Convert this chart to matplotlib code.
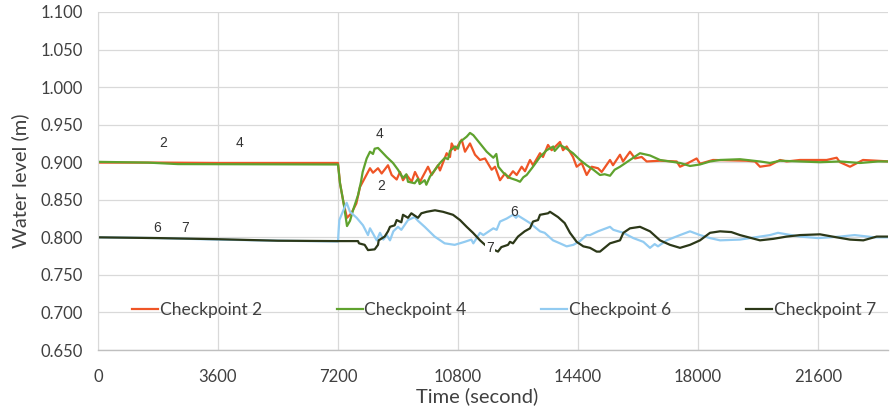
import matplotlib
matplotlib.use("Agg")
import matplotlib.pyplot as plt

# ---- data (time in s, water level in m) ----
t_cp2 = [0, 1800, 3600, 7200, 7260, 7370, 7470, 7600, 7750, 7860, 8160, 8250, 8400, 8510,
         8700, 8810, 8960, 9060, 9150, 9260, 9410, 9510, 9660, 9900, 10010, 10200, 10260,
         10460, 10560, 10610, 10710, 10910, 11010, 11160, 11310, 11460, 11610, 11810, 11910,
         12060, 12210, 12300, 12450, 12560, 12710, 12810, 12960, 13050, 13260, 13350, 13500,
         13610, 13860, 13950, 14060, 14250, 14360, 14510, 14660, 14810, 15000, 15110, 15360,
         15450, 15660, 15750, 15960, 16110, 16310, 16460, 16860, 17360, 17460, 17660, 17960,
         18060, 18450, 19460, 19710, 19860, 20160, 20460, 20660, 21060, 21860, 22160, 22260,
         22560, 22950, 23360, 23760]
y_cp2 = [0.8995, 0.8995, 0.899, 0.899, 0.872, 0.845, 0.826, 0.832, 0.845, 0.867, 0.892, 0.886,
         0.892, 0.885, 0.896, 0.883, 0.877, 0.887, 0.876, 0.883, 0.874, 0.887, 0.874, 0.894,
         0.883, 0.896, 0.889, 0.912, 0.907, 0.925, 0.916, 0.930, 0.914, 0.925, 0.910, 0.903,
         0.905, 0.890, 0.894, 0.876, 0.885, 0.879, 0.888, 0.883, 0.894, 0.888, 0.903, 0.896,
         0.912, 0.907, 0.923, 0.916, 0.927, 0.916, 0.921, 0.907, 0.894, 0.899, 0.883, 0.894,
         0.892, 0.887, 0.903, 0.896, 0.910, 0.901, 0.914, 0.905, 0.907, 0.901, 0.902, 0.901,
         0.894, 0.898, 0.905, 0.898, 0.903, 0.902, 0.901, 0.894, 0.896, 0.903, 0.901, 0.903,
         0.903, 0.906, 0.900, 0.894, 0.903, 0.902, 0.901]

t_cp4 = [0, 1500, 2400, 7200, 7260, 7370, 7470, 7560, 7650, 7800, 7890, 7940, 8060, 8160,
         8250, 8300, 8400, 8510, 8660, 8850, 9000, 9150, 9250, 9300, 9500, 9600, 9650, 9800,
         9850, 9960, 10110, 10260, 10410, 10500, 10560, 10710, 10800, 10860, 11060, 11160,
         11260, 11460, 11660, 11860, 11950, 12010, 12160, 12360, 12560, 12660, 12760, 12860,
         13050, 13260, 13460, 13660, 13700, 13860, 14060, 14250, 14460, 14660, 14860, 15060,
         15200, 15360, 15500, 15660, 15960, 16260, 16560, 16860, 17160, 17460, 17760, 18060,
         18360, 18660, 19260, 19860, 20160, 20460, 21060, 21660, 22260, 22860, 23400, 23760]
y_cp4 = [0.9005, 0.8995, 0.8975, 0.897, 0.872, 0.845, 0.815, 0.822, 0.836, 0.856, 0.874, 0.887,
         0.905, 0.914, 0.911, 0.918, 0.919, 0.914, 0.907, 0.899, 0.890, 0.879, 0.884, 0.874,
         0.872, 0.878, 0.871, 0.876, 0.870, 0.881, 0.890, 0.899, 0.906, 0.904, 0.915, 0.921,
         0.918, 0.927, 0.934, 0.939, 0.936, 0.925, 0.914, 0.906, 0.911, 0.894, 0.886, 0.879,
         0.876, 0.874, 0.880, 0.883, 0.894, 0.907, 0.916, 0.921, 0.915, 0.923, 0.918, 0.912,
         0.903, 0.896, 0.890, 0.883, 0.884, 0.882, 0.890, 0.894, 0.903, 0.912, 0.909, 0.903,
         0.901, 0.899, 0.895, 0.897, 0.901, 0.903, 0.904, 0.901, 0.899, 0.902, 0.901, 0.900,
         0.901, 0.899, 0.901, 0.901]

t_cp6 = [0, 1800, 3600, 5400, 7200, 7215, 7240, 7380, 7460, 7560, 7760, 7950, 8100, 8160,
         8250, 8360, 8460, 8560, 8660, 8760, 8860, 9000, 9100, 9300, 9500, 9600, 9800, 10100,
         10400, 10700, 11000, 11200, 11260, 11460, 11560, 11860, 11960, 12060, 12260, 12450,
         12540, 12600, 12960, 13260, 13400, 13650, 13860, 14060, 14260, 14460, 14660, 14760,
         15000, 15360, 15460, 15760, 16060, 16360, 16560, 16700, 16800, 17060, 17460, 17760,
         18060, 18360, 18660, 19260, 19860, 20160, 20400, 21060, 21600, 22260, 22700, 23300,
         23760]
y_cp6 = [0.800, 0.799, 0.797, 0.7955, 0.7945, 0.806, 0.823, 0.838, 0.846, 0.834, 0.826, 0.816,
         0.803, 0.812, 0.805, 0.796, 0.806, 0.797, 0.803, 0.796, 0.808, 0.814, 0.810, 0.823,
         0.827, 0.822, 0.814, 0.801, 0.792, 0.790, 0.794, 0.797, 0.792, 0.806, 0.803, 0.812,
         0.810, 0.821, 0.825, 0.830, 0.826, 0.829, 0.819, 0.808, 0.806, 0.796, 0.792, 0.788,
         0.790, 0.795, 0.803, 0.803, 0.808, 0.814, 0.810, 0.806, 0.799, 0.794, 0.786, 0.791,
         0.788, 0.796, 0.803, 0.808, 0.803, 0.799, 0.796, 0.797, 0.801, 0.803, 0.806, 0.801,
         0.799, 0.801, 0.803, 0.800, 0.800]

t_cp7 = [0, 1800, 3600, 5400, 7200, 7800, 7830, 8000, 8100, 8300, 8400, 8420, 8600, 8700,
         8760, 8900, 8960, 9100, 9150, 9300, 9400, 9600, 9700, 9860, 10110, 10350, 10650,
         10860, 11060, 11250, 11460, 11610, 11700, 12000, 12100, 12300, 12360, 12450, 12600,
         12800, 12960, 13050, 13200, 13260, 13500, 13560, 13800, 14000, 14160, 14360, 14560,
         14760, 14960, 15060, 15360, 15660, 15760, 15960, 16260, 16560, 16860, 17160, 17460,
         17760, 18060, 18360, 18660, 19000, 19260, 19860, 20260, 20660, 21060, 21660, 22160,
         22560, 22960, 23360, 23760]
y_cp7 = [0.800, 0.799, 0.7975, 0.7955, 0.795, 0.795, 0.792, 0.790, 0.783, 0.784, 0.790, 0.796,
         0.801, 0.808, 0.814, 0.816, 0.823, 0.820, 0.830, 0.826, 0.832, 0.826, 0.832, 0.834,
         0.836, 0.834, 0.830, 0.823, 0.814, 0.806, 0.796, 0.790, 0.787, 0.781, 0.787, 0.790,
         0.794, 0.792, 0.801, 0.808, 0.812, 0.821, 0.823, 0.830, 0.832, 0.834, 0.827, 0.819,
         0.806, 0.794, 0.788, 0.786, 0.781, 0.781, 0.792, 0.796, 0.806, 0.812, 0.814, 0.808,
         0.796, 0.790, 0.786, 0.790, 0.796, 0.806, 0.808, 0.807, 0.803, 0.796, 0.798, 0.801,
         0.803, 0.804, 0.800, 0.797, 0.796, 0.801, 0.801]

series_names = ["Checkpoint 2", "Checkpoint 4", "Checkpoint 6", "Checkpoint 7"]
series_colors = ["#ef5526", "#5fa22e", "#92cbf1", "#2c3818"]

# in-plot number labels (text, time, level)
point_labels = [("2", 1950, 0.925), ("4", 4250, 0.925), ("6", 1770, 0.813), ("7", 2600, 0.813),
                ("4", 8460, 0.938), ("2", 8490, 0.869), ("6", 12480, 0.834), ("7", 11760, 0.786)]

x_ticks = [0, 3600, 7200, 10800, 14400, 18000, 21600]

plt.rcParams["font.family"] = ["Lato", "DejaVu Sans"]

fig = plt.figure(figsize=(8.9, 4.11), dpi=100)
ax = fig.add_axes([98 / 890, 61 / 411, 790 / 890, 338 / 411])

ax.plot(t_cp2, y_cp2, color=series_colors[0], lw=1.6, label=series_names[0])
ax.plot(t_cp4, y_cp4, color=series_colors[1], lw=1.6, label=series_names[1])
ax.plot(t_cp6, y_cp6, color=series_colors[2], lw=1.6, label=series_names[2])
ax.plot(t_cp7, y_cp7, color=series_colors[3], lw=1.6, label=series_names[3])

for txt, tx, ty in point_labels:
    bb = None
    if txt == "7" and tx > 7200:
        bb = dict(facecolor="white", edgecolor="none", pad=1)
    ax.text(tx, ty, txt, ha="center", va="center", fontsize=10, color="#333333",
            family=["Liberation Sans", "DejaVu Sans"], bbox=bb, zorder=5)

ax.set_xlim(0, 23700)
ax.set_ylim(0.65, 1.10)
ax.set_xticks(x_ticks)
ax.set_yticks([0.65 + 0.05 * i for i in range(10)])
ax.yaxis.set_major_formatter(matplotlib.ticker.FormatStrFormatter("%.3f"))
ax.tick_params(length=0, labelsize=12, colors="#404040", pad=11)
ax.tick_params(axis="x", pad=14)

ax.grid(True, color="#d9d9d9", lw=0.9)
ax.set_axisbelow(True)
for s in ["top", "right"]:
    ax.spines[s].set_visible(False)
ax.spines["left"].set_color("#d9d9d9")
ax.spines["bottom"].set_color("#bfbfbf")
ax.spines["bottom"].set_linewidth(1.0)

ax.set_xlabel("Time (second)", fontsize=14.5, color="#404040")
ax.xaxis.set_label_coords(0.48, -0.11)
ax.set_ylabel("Water level (m)", fontsize=14.5, color="#404040", labelpad=8)

leg = ax.legend(loc="center left", bbox_to_anchor=(0.043, 0.118), ncol=4, frameon=False,
                fontsize=12.5, handlelength=1.5, handletextpad=0.1, columnspacing=4.3,
                borderaxespad=0, borderpad=0)
for txt in leg.get_texts():
    txt.set_color("#404040")

fig.savefig("out.png", dpi=100)
